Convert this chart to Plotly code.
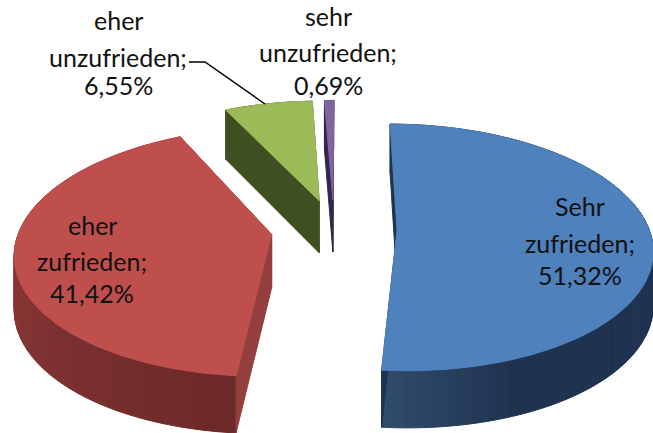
import numpy as np
import plotly.graph_objects as go

categories = ["Sehr zufrieden", "eher zufrieden", "eher unzufrieden", "sehr unzufrieden"]
shares = [51.32, 41.42, 6.55, 0.69]
label_lines = [
    ["Sehr", "zufrieden;", "51,32%"],
    ["eher", "zufrieden;", "41,42%"],
    ["eher", "unzufrieden;", "6,55%"],
    ["sehr", "unzufrieden;", "0,69%"],
]
label_x = [580, 92, 118, 328]
label_y = [[206, 243, 275], [225, 261, 293], [20, 57, 85], [16, 52, 85]]
top_colors = ["#4F81BD", "#BE4F4D", "#9BBB59", "#8064A2"]
cut_colors = ["#1F3350", "#943F3D", "#404F21", "#33264A"]
wall_from = [(48, 76, 108), (168, 71, 68), (64, 79, 33), (51, 38, 74)]
wall_to = [(31, 51, 80), (108, 41, 41), (64, 79, 33), (51, 38, 74)]

CX, CY, RX, RY, PERSP, EXPLODE, DEPTH, START = 334, 229, 252, 120.6, 0.138, 0.25, 53, 0.2


def project(X, Y):
    s = 1 / (1 + PERSP * Y)
    return CX + RX * X * s, CY - RY * Y * s, DEPTH * np.sqrt(s)


fig = go.Figure()


def poly(xs, ys, color):
    fig.add_trace(go.Scatter(x=xs, y=ys, mode="lines", fill="toself", fillcolor=color,
                             line=dict(color=color, width=1), hoverinfo="skip", showlegend=False))


bounds = START + np.concatenate([[0], np.cumsum(shares)]) / sum(shares) * 360
for i in [2, 3, 1, 0]:
    a0, a1 = np.radians(bounds[i]), np.radians(bounds[i + 1])
    mid = (a0 + a1) / 2
    ox, oy = EXPLODE * np.sin(mid), EXPLODE * np.cos(mid)
    th = np.linspace(a0, a1, max(6, int(np.degrees(a1 - a0))))
    arc = [project(ox + np.sin(t), oy + np.cos(t)) for t in th]
    apex = project(ox, oy)
    # outer wall, in shaded bands
    order = range(len(arc) - 1) if i == 0 else range(len(arc) - 2, -1, -1)
    for k in order:
        f = k / (len(arc) - 2) if len(arc) > 2 else 0
        if i == 1:
            f = 1 - f
        else:
            f = min(1, (1 - f) * 7)
        c = tuple(int(wall_from[i][n] + (wall_to[i][n] - wall_from[i][n]) * f) for n in range(3))
        p, q = arc[k], arc[k + 1]
        poly([p[0], q[0], q[0], p[0], p[0]], [p[1], q[1], q[1] + q[2], p[1] + p[2], p[1]], "rgb(%d,%d,%d)" % c)
    # the two cut walls
    for e in (arc[0], arc[-1]):
        poly([apex[0], e[0], e[0], apex[0], apex[0]],
             [apex[1], e[1], e[1] + e[2], apex[1] + apex[2], apex[1]], cut_colors[i])
    # top face
    poly([apex[0]] + [p[0] for p in arc] + [apex[0]],
         [apex[1]] + [p[1] for p in arc] + [apex[1]], top_colors[i])

annotations = []
for lines, x, ys in zip(label_lines, label_x, label_y):
    for line, y in zip(lines, ys):
        annotations.append(dict(x=x, y=y, text=line, showarrow=False, xref="x", yref="y",
                                xanchor="center", yanchor="middle",
                                font=dict(family="Lato", size=25, color="#111111")))

fig.update_layout(
    width=653, height=433, margin=dict(l=0, r=0, t=0, b=0),
    paper_bgcolor="white", plot_bgcolor="white", showlegend=False,
    xaxis=dict(range=[0, 653], visible=False, fixedrange=True),
    yaxis=dict(range=[433, 0], visible=False, fixedrange=True),
    annotations=annotations,
    shapes=[dict(type="path", path="M 189 62 L 205 62 L 265 104", xref="x", yref="y",
                 line=dict(color="black", width=1.5))],
)
fig.write_html("out.html", config={"displayModeBar": False},
               post_script="document.body.style.margin='0';document.body.style.overflow='hidden';")
